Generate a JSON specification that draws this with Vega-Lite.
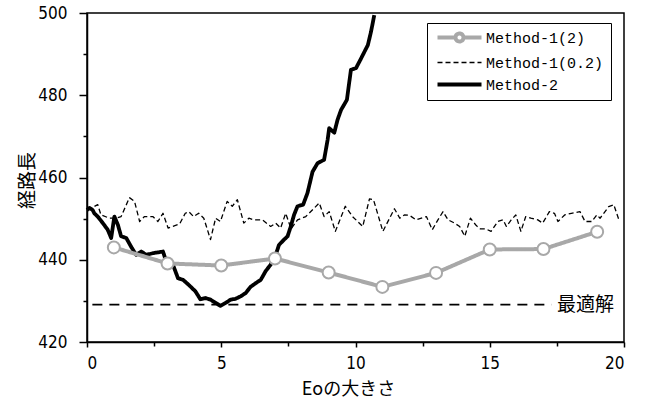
{
  "$schema": "https://vega.github.io/schema/vega-lite/v6.json",
  "width": 537,
  "height": 329,
  "autosize": {"type": "none"},
  "padding": {"left": 87, "top": 13, "right": 23, "bottom": 59},
  "background": "white",
  "config": {
    "view": {"stroke": "black", "strokeWidth": 1.5},
    "axis": {"domainColor": "black", "domainWidth": 1.5, "tickColor": "black", "tickWidth": 1.5, "grid": false, "labelColor": "black", "titleColor": "black", "labelFont": "DejaVu Sans Condensed, Liberation Sans Narrow, Liberation Sans", "labelFontSize": 17}
  },
  "datasets": {
    "series": [
      {"series": "Method-1(0.2)", "x": 0.0, "y": 452.4},
      {"series": "Method-1(0.2)", "x": 0.15, "y": 452.5},
      {"series": "Method-1(0.2)", "x": 0.4, "y": 453.4},
      {"series": "Method-1(0.2)", "x": 0.52, "y": 450.9},
      {"series": "Method-1(0.2)", "x": 0.84, "y": 450.1},
      {"series": "Method-1(0.2)", "x": 1.08, "y": 450.1},
      {"series": "Method-1(0.2)", "x": 1.27, "y": 450.5},
      {"series": "Method-1(0.2)", "x": 1.58, "y": 455.1},
      {"series": "Method-1(0.2)", "x": 1.77, "y": 454.2},
      {"series": "Method-1(0.2)", "x": 1.96, "y": 449.3},
      {"series": "Method-1(0.2)", "x": 2.14, "y": 450.5},
      {"series": "Method-1(0.2)", "x": 2.45, "y": 450.5},
      {"series": "Method-1(0.2)", "x": 2.64, "y": 449.3},
      {"series": "Method-1(0.2)", "x": 2.83, "y": 451.3},
      {"series": "Method-1(0.2)", "x": 3.02, "y": 447.7},
      {"series": "Method-1(0.2)", "x": 3.2, "y": 448.1},
      {"series": "Method-1(0.2)", "x": 3.45, "y": 448.7},
      {"series": "Method-1(0.2)", "x": 3.66, "y": 451.3},
      {"series": "Method-1(0.2)", "x": 3.79, "y": 451.7},
      {"series": "Method-1(0.2)", "x": 3.97, "y": 450.5},
      {"series": "Method-1(0.2)", "x": 4.16, "y": 451.3},
      {"series": "Method-1(0.2)", "x": 4.35, "y": 450.1},
      {"series": "Method-1(0.2)", "x": 4.6, "y": 444.9},
      {"series": "Method-1(0.2)", "x": 4.79, "y": 450.1},
      {"series": "Method-1(0.2)", "x": 4.97, "y": 449.3},
      {"series": "Method-1(0.2)", "x": 5.22, "y": 454.2},
      {"series": "Method-1(0.2)", "x": 5.41, "y": 453.0},
      {"series": "Method-1(0.2)", "x": 5.6, "y": 454.6},
      {"series": "Method-1(0.2)", "x": 5.84, "y": 448.9},
      {"series": "Method-1(0.2)", "x": 6.03, "y": 450.1},
      {"series": "Method-1(0.2)", "x": 6.22, "y": 449.7},
      {"series": "Method-1(0.2)", "x": 6.53, "y": 449.7},
      {"series": "Method-1(0.2)", "x": 6.84, "y": 448.1},
      {"series": "Method-1(0.2)", "x": 7.03, "y": 448.9},
      {"series": "Method-1(0.2)", "x": 7.21, "y": 447.7},
      {"series": "Method-1(0.2)", "x": 7.4, "y": 451.3},
      {"series": "Method-1(0.2)", "x": 7.6, "y": 447.5},
      {"series": "Method-1(0.2)", "x": 7.84, "y": 449.7},
      {"series": "Method-1(0.2)", "x": 8.15, "y": 450.5},
      {"series": "Method-1(0.2)", "x": 8.65, "y": 453.8},
      {"series": "Method-1(0.2)", "x": 8.83, "y": 450.5},
      {"series": "Method-1(0.2)", "x": 9.02, "y": 451.7},
      {"series": "Method-1(0.2)", "x": 9.25, "y": 446.9},
      {"series": "Method-1(0.2)", "x": 9.62, "y": 453.0},
      {"series": "Method-1(0.2)", "x": 9.89, "y": 450.5},
      {"series": "Method-1(0.2)", "x": 10.27, "y": 448.1},
      {"series": "Method-1(0.2)", "x": 10.52, "y": 454.8},
      {"series": "Method-1(0.2)", "x": 10.67, "y": 454.6},
      {"series": "Method-1(0.2)", "x": 11.02, "y": 446.9},
      {"series": "Method-1(0.2)", "x": 11.45, "y": 452.4},
      {"series": "Method-1(0.2)", "x": 11.65, "y": 450.1},
      {"series": "Method-1(0.2)", "x": 11.82, "y": 450.9},
      {"series": "Method-1(0.2)", "x": 12.01, "y": 450.8},
      {"series": "Method-1(0.2)", "x": 12.26, "y": 449.7},
      {"series": "Method-1(0.2)", "x": 12.64, "y": 450.5},
      {"series": "Method-1(0.2)", "x": 12.86, "y": 447.3},
      {"series": "Method-1(0.2)", "x": 13.07, "y": 449.7},
      {"series": "Method-1(0.2)", "x": 13.26, "y": 451.7},
      {"series": "Method-1(0.2)", "x": 13.45, "y": 449.7},
      {"series": "Method-1(0.2)", "x": 13.69, "y": 448.9},
      {"series": "Method-1(0.2)", "x": 13.88, "y": 448.1},
      {"series": "Method-1(0.2)", "x": 14.07, "y": 445.7},
      {"series": "Method-1(0.2)", "x": 14.28, "y": 450.1},
      {"series": "Method-1(0.2)", "x": 14.5, "y": 448.3},
      {"series": "Method-1(0.2)", "x": 14.65, "y": 447.5},
      {"series": "Method-1(0.2)", "x": 14.85, "y": 447.5},
      {"series": "Method-1(0.2)", "x": 15.05, "y": 446.9},
      {"series": "Method-1(0.2)", "x": 15.3, "y": 449.3},
      {"series": "Method-1(0.2)", "x": 15.5, "y": 449.7},
      {"series": "Method-1(0.2)", "x": 15.62, "y": 448.1},
      {"series": "Method-1(0.2)", "x": 15.8, "y": 449.7},
      {"series": "Method-1(0.2)", "x": 15.97, "y": 450.9},
      {"series": "Method-1(0.2)", "x": 16.16, "y": 446.9},
      {"series": "Method-1(0.2)", "x": 16.34, "y": 450.5},
      {"series": "Method-1(0.2)", "x": 16.53, "y": 450.1},
      {"series": "Method-1(0.2)", "x": 16.79, "y": 449.7},
      {"series": "Method-1(0.2)", "x": 16.97, "y": 448.9},
      {"series": "Method-1(0.2)", "x": 17.22, "y": 451.7},
      {"series": "Method-1(0.2)", "x": 17.41, "y": 451.3},
      {"series": "Method-1(0.2)", "x": 17.54, "y": 449.3},
      {"series": "Method-1(0.2)", "x": 17.79, "y": 450.9},
      {"series": "Method-1(0.2)", "x": 18.04, "y": 451.3},
      {"series": "Method-1(0.2)", "x": 18.36, "y": 451.7},
      {"series": "Method-1(0.2)", "x": 18.55, "y": 449.3},
      {"series": "Method-1(0.2)", "x": 18.8, "y": 449.3},
      {"series": "Method-1(0.2)", "x": 18.99, "y": 450.9},
      {"series": "Method-1(0.2)", "x": 19.11, "y": 450.1},
      {"series": "Method-1(0.2)", "x": 19.43, "y": 452.9},
      {"series": "Method-1(0.2)", "x": 19.62, "y": 453.4},
      {"series": "Method-1(0.2)", "x": 19.81, "y": 449.7},
      {"series": "Method-2", "x": 0.0, "y": 452.1},
      {"series": "Method-2", "x": 0.09, "y": 452.6},
      {"series": "Method-2", "x": 0.21, "y": 452.1},
      {"series": "Method-2", "x": 0.27, "y": 451.3},
      {"series": "Method-2", "x": 0.4, "y": 450.5},
      {"series": "Method-2", "x": 0.59, "y": 448.9},
      {"series": "Method-2", "x": 0.77, "y": 447.3},
      {"series": "Method-2", "x": 0.9, "y": 445.3},
      {"series": "Method-2", "x": 1.02, "y": 450.5},
      {"series": "Method-2", "x": 1.15, "y": 448.5},
      {"series": "Method-2", "x": 1.27, "y": 445.7},
      {"series": "Method-2", "x": 1.46, "y": 445.3},
      {"series": "Method-2", "x": 1.64, "y": 443.2},
      {"series": "Method-2", "x": 1.83, "y": 441.2},
      {"series": "Method-2", "x": 2.02, "y": 442.0},
      {"series": "Method-2", "x": 2.21, "y": 441.2},
      {"series": "Method-2", "x": 2.46, "y": 441.6},
      {"series": "Method-2", "x": 2.83, "y": 442.0},
      {"series": "Method-2", "x": 2.95, "y": 439.6},
      {"series": "Method-2", "x": 3.2, "y": 438.8},
      {"series": "Method-2", "x": 3.39, "y": 435.5},
      {"series": "Method-2", "x": 3.58, "y": 435.1},
      {"series": "Method-2", "x": 3.82, "y": 433.7},
      {"series": "Method-2", "x": 4.04, "y": 432.3},
      {"series": "Method-2", "x": 4.22, "y": 430.4},
      {"series": "Method-2", "x": 4.41, "y": 430.7},
      {"series": "Method-2", "x": 4.6, "y": 430.3},
      {"series": "Method-2", "x": 4.79, "y": 429.5},
      {"series": "Method-2", "x": 4.97, "y": 428.8},
      {"series": "Method-2", "x": 5.16, "y": 429.5},
      {"series": "Method-2", "x": 5.35, "y": 430.3},
      {"series": "Method-2", "x": 5.53, "y": 430.5},
      {"series": "Method-2", "x": 5.72, "y": 431.1},
      {"series": "Method-2", "x": 5.91, "y": 431.9},
      {"series": "Method-2", "x": 6.09, "y": 433.4},
      {"series": "Method-2", "x": 6.28, "y": 434.3},
      {"series": "Method-2", "x": 6.47, "y": 435.1},
      {"series": "Method-2", "x": 6.65, "y": 437.2},
      {"series": "Method-2", "x": 6.84, "y": 438.8},
      {"series": "Method-2", "x": 7.03, "y": 441.2},
      {"series": "Method-2", "x": 7.15, "y": 443.6},
      {"series": "Method-2", "x": 7.34, "y": 444.9},
      {"series": "Method-2", "x": 7.47, "y": 445.7},
      {"series": "Method-2", "x": 7.59, "y": 448.1},
      {"series": "Method-2", "x": 7.71, "y": 450.9},
      {"series": "Method-2", "x": 7.84, "y": 453.0},
      {"series": "Method-2", "x": 8.05, "y": 453.4},
      {"series": "Method-2", "x": 8.21, "y": 456.2},
      {"series": "Method-2", "x": 8.4, "y": 461.4},
      {"series": "Method-2", "x": 8.59, "y": 463.5},
      {"series": "Method-2", "x": 8.83, "y": 464.3},
      {"series": "Method-2", "x": 8.96, "y": 469.1},
      {"series": "Method-2", "x": 9.02, "y": 472.0},
      {"series": "Method-2", "x": 9.21, "y": 470.9},
      {"series": "Method-2", "x": 9.33, "y": 474.0},
      {"series": "Method-2", "x": 9.46, "y": 476.4},
      {"series": "Method-2", "x": 9.68, "y": 478.9},
      {"series": "Method-2", "x": 9.83, "y": 486.2},
      {"series": "Method-2", "x": 10.02, "y": 486.6},
      {"series": "Method-2", "x": 10.18, "y": 488.6},
      {"series": "Method-2", "x": 10.46, "y": 492.2},
      {"series": "Method-2", "x": 10.58, "y": 495.5},
      {"series": "Method-2", "x": 10.7, "y": 499.5},
      {"series": "Method-1(2)", "x": 1, "y": 443.0},
      {"series": "Method-1(2)", "x": 3, "y": 439.1},
      {"series": "Method-1(2)", "x": 5, "y": 438.6},
      {"series": "Method-1(2)", "x": 7, "y": 440.3},
      {"series": "Method-1(2)", "x": 9, "y": 436.9},
      {"series": "Method-1(2)", "x": 11, "y": 433.4},
      {"series": "Method-1(2)", "x": 13, "y": 436.8},
      {"series": "Method-1(2)", "x": 15, "y": 442.5},
      {"series": "Method-1(2)", "x": 17, "y": 442.6},
      {"series": "Method-1(2)", "x": 19, "y": 446.8}
    ],
    "optimal": [
      {"x": 0.2, "y": 429.1},
      {"x": 17.3, "y": 429.1}
    ],
    "optlabel": [
      {"x": 17.5, "y": 429.1, "label": "最適解"}
    ]
  },
  "resolve": {"axis": {"x": "independent", "y": "independent"}},
  "layer": [
    {
      "data": {"name": "optimal"},
      "mark": {"type": "line", "color": "black", "strokeWidth": 1.8, "strokeDash": [10, 7]},
      "encoding": {
        "x": {"field": "x", "type": "quantitative", "scale": {"domain": [0, 20], "nice": false, "zero": false},
              "axis": {"orient": "bottom", "values": [2.5, 7.5, 12.5, 17.5], "labels": false, "tickSize": 4, "domain": false, "title": null}},
        "y": {"field": "y", "type": "quantitative", "scale": {"domain": [420, 500], "nice": false, "zero": false},
              "axis": {"orient": "left", "values": [430, 450, 470, 490], "labels": false, "tickSize": 4, "domain": false, "title": null}}
      }
    },
    {
      "data": {"name": "optlabel"},
      "mark": {"type": "text", "align": "left", "baseline": "middle", "font": "Noto Sans CJK JP", "fontSize": 19, "color": "black"},
      "encoding": {
        "x": {"field": "x", "type": "quantitative", "axis": null},
        "y": {"field": "y", "type": "quantitative", "axis": null},
        "text": {"field": "label"}
      }
    },
    {
      "data": {"name": "series"},
      "mark": {"type": "line", "strokeJoin": "round"},
      "encoding": {
        "x": {"field": "x", "type": "quantitative",
              "axis": {"orient": "bottom", "values": [0, 5, 10, 15, 20], "tickSize": 5, "labelPadding": 8,
                       "title": "Eoの大きさ", "titleFont": "Noto Sans CJK JP", "titleFontSize": 18, "titleFontWeight": "normal",
                       "titleX": 261, "titleY": 47, "titleBaseline": "middle", "titleAlign": "center"}},
        "y": {"field": "y", "type": "quantitative",
              "axis": {"orient": "left", "values": [420, 440, 460, 480, 500], "tickSize": 8, "labelPadding": 12,
                       "title": "経路長", "titleFont": "Noto Sans CJK JP", "titleFontSize": 19, "titleFontWeight": "normal",
                       "titleX": -60, "titleY": 167, "titleAngle": -90, "titleBaseline": "middle", "titleAlign": "center"}},
        "order": {"field": "x", "type": "quantitative"},
        "color": {"field": "series", "type": "nominal",
                  "scale": {"domain": ["Method-1(2)", "Method-1(0.2)", "Method-2"], "range": ["#a8a8a8", "black", "black"]},
                  "legend": {
                    "title": null, "orient": "none", "legendX": 340, "legendY": 10,
                    "strokeColor": "black", "padding": 7, "fillColor": "white",
                    "labelFont": "Liberation Mono", "labelFontSize": 15, "labelColor": "black",
                    "symbolSize": 16, "symbolOffset": 18, "labelOffset": 19, "rowPadding": 5,
                    "encode": {
                      "symbols": {
                        "update": {
                          "shape": {"signal": "datum.value === 'Method-1(2)' ? 'M-11 0L-2 0M2 0L11 0M2 0A2 2 0 1 1 -2 0A2 2 0 1 1 2 0' : 'M-11 0L11 0'"},
                          "fill": {"value": "white"}
                        }
                      }
                    }
                  }},
        "strokeDash": {"field": "series", "type": "nominal",
                       "scale": {"domain": ["Method-1(2)", "Method-1(0.2)", "Method-2"], "range": [[1, 0], [5, 3], [1, 0]]}},
        "strokeWidth": {"field": "series", "type": "nominal",
                        "scale": {"type": "ordinal", "domain": ["Method-1(2)", "Method-1(0.2)", "Method-2"], "range": [4, 1.3, 3.8]}}
      }
    },
    {
      "data": {"name": "series"},
      "transform": [{"filter": "datum.series === 'Method-1(2)'"}],
      "mark": {"type": "point", "filled": true, "fill": "white", "stroke": "#a8a8a8", "strokeWidth": 2, "size": 144, "opacity": 1},
      "encoding": {
        "x": {"field": "x", "type": "quantitative", "axis": null},
        "y": {"field": "y", "type": "quantitative", "axis": null}
      }
    }
  ]
}
